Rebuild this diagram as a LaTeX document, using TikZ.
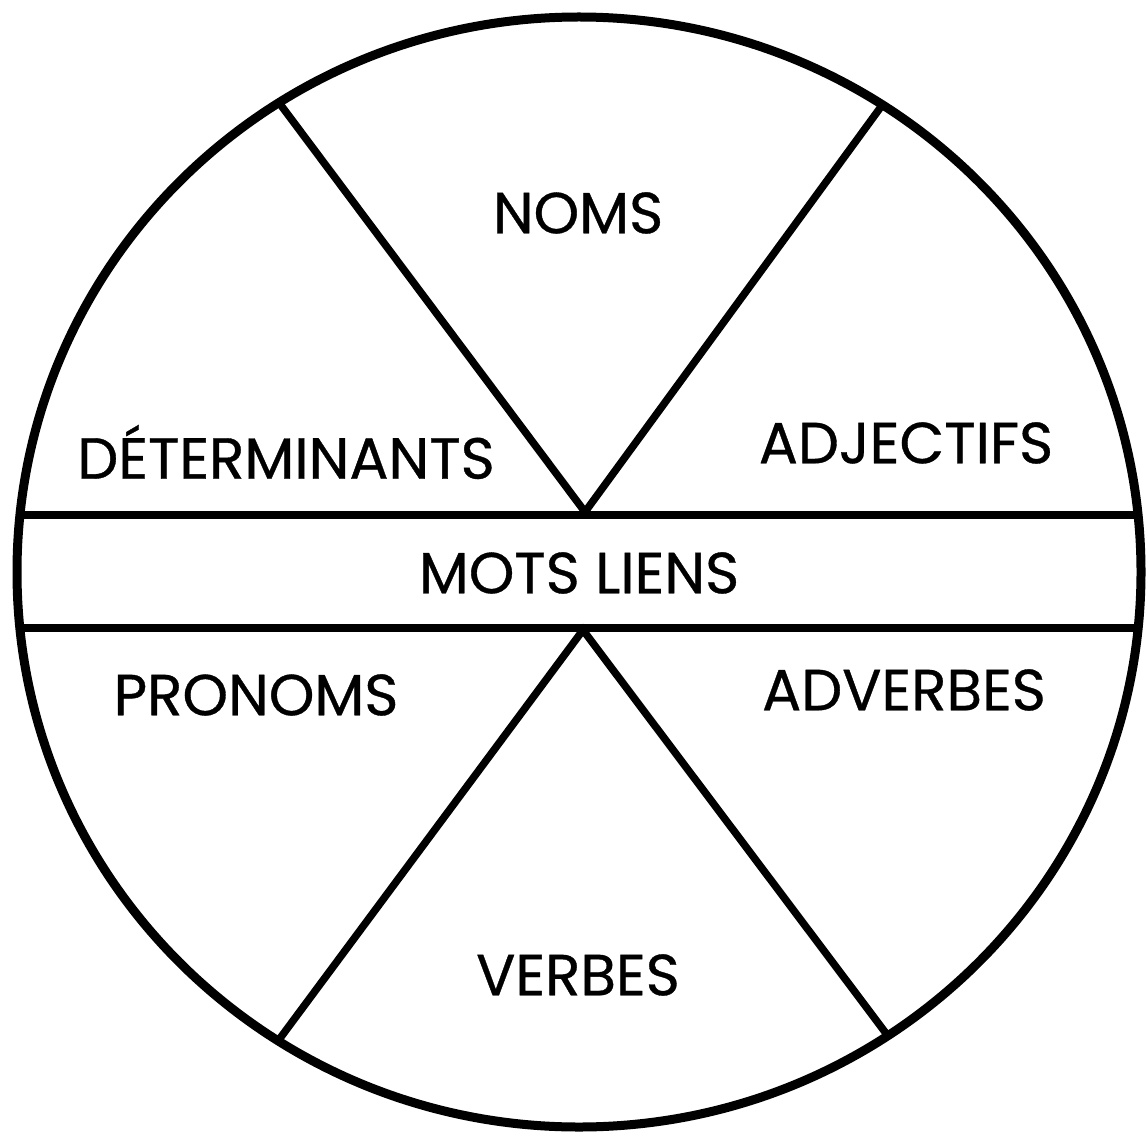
\documentclass[tikz,border=0pt]{standalone}
\usepackage{fontspec}
\setmainfont{Poppins}[FakeBold=0.6]
\begin{document}
\begin{tikzpicture}[x=1pt,y=-1pt,
  lbl/.style={font=\fontsize{58}{62}\selectfont, inner sep=0pt, anchor=center},
  rim/.style={line width=9pt},
  sep/.style={line width=7.5pt}]
\useasboundingbox (0,0) rectangle (1147,1131);
\draw[rim] (579,572) ellipse [x radius=562, y radius=555];
\coordinate (ta) at (585,512);
\coordinate (ba) at (583,630);
\coordinate (tl) at (280,104);
\coordinate (tr) at (883,104);
\coordinate (bl) at (278,1041);
\coordinate (br) at (888,1036);
\coordinate (hl1) at (19,515);
\coordinate (hr1) at (1141,515);
\coordinate (hl2) at (19,628);
\coordinate (hr2) at (1141,628);
\draw[sep] (hl1) -- (hr1);
\draw[sep] (hl2) -- (hr2);
\draw[sep] (tl) -- (ta) -- (tr);
\draw[sep] (bl) -- (ba) -- (br);
\node[lbl] (noms) at (578,213) {NOMS};
\node[lbl] (det) at (286,452) {DÉTERMINANTS};
\node[lbl] (adj) at (906,443) {ADJECTIFS};
\node[lbl] (mots) at (579,573) {MOTS LIENS};
\node[lbl] (pron) at (256,695) {PRONOMS};
\node[lbl] (adv) at (904,690) {ADVERBES};
\node[lbl] (verb) at (578,975) {VERBES};
\end{tikzpicture}
\end{document}
